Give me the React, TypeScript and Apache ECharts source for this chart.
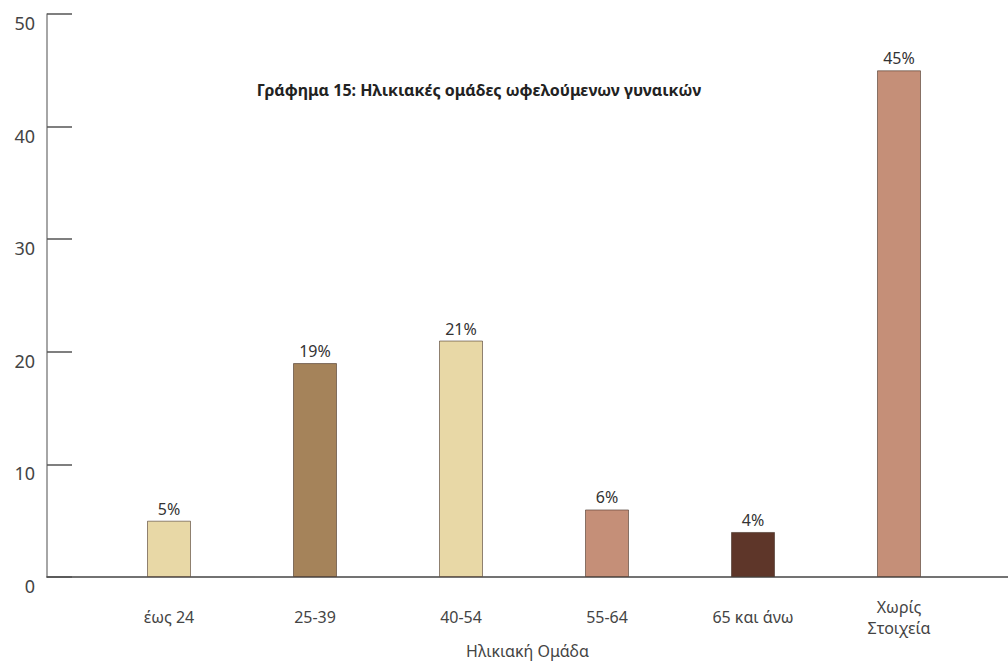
import React, { useEffect, useRef } from "react";
import * as echarts from "echarts";

const categories = ["έως 24", "25-39", "40-54", "55-64", "65 και άνω", "Χωρίς\nΣτοιχεία"];
const values = [5, 19, 21, 6, 4, 45];
const barColors = ["#E8D8A6", "#A5835A", "#E8D8A6", "#C58F78", "#5E3629", "#C58F78"];
const yTicks = { min: 0, max: 50, interval: 10 };
const titleText = "Γράφημα 15: Ηλικιακές ομάδες ωφελούμενων γυναικών";
const xName = "Ηλικιακή Ομάδα";

export default function App() {
  const ref = useRef<HTMLDivElement>(null);
  useEffect(() => {
    if (!ref.current) return;
    const chart = echarts.init(ref.current, null, { renderer: "svg" });
    const font = "'Noto Sans', sans-serif";
    chart.setOption({
      animation: false,
      textStyle: { fontFamily: font },
      title: {
        text: titleText,
        left: 474,
        top: 77,
        textAlign: "center",
        textStyle: { fontSize: 16, fontWeight: "bold", color: "#222", fontFamily: font },
      },
      grid: [
        { left: 47, right: 0, top: 14, bottom: 87, outerBoundsMode: "none", containLabel: false },
        { left: 96, right: 36, top: 14, bottom: 87, outerBoundsMode: "none", containLabel: false },
      ],
      xAxis: [
        {
          gridIndex: 0,
          type: "value",
          min: 0,
          max: 1,
          axisLine: { show: true, onZero: false, lineStyle: { color: "#444", width: 1.5 } },
          axisTick: { show: false },
          axisLabel: { show: false },
          splitLine: { show: false },
          name: xName,
          nameLocation: "middle",
          nameGap: 66,
          nameTextStyle: { fontSize: 16, color: "#444", fontFamily: font },
        },
        {
          gridIndex: 1,
          type: "category",
          data: categories,
          axisLine: { show: false },
          axisTick: { show: false },
          axisLabel: {
            margin: 40,
            fontSize: 16,
            color: "#444",
            lineHeight: 21,
            verticalAlign: "middle",
            fontFamily: font,
            interval: 0,
          },
        },
      ],
      yAxis: [
        {
          gridIndex: 0,
          type: "value",
          min: yTicks.min,
          max: yTicks.max,
          interval: yTicks.interval,
          axisLine: { show: true, lineStyle: { color: "#888", width: 1.5 } },
          axisTick: { show: true, inside: true, length: 25, lineStyle: { color: "#555", width: 1.5 } },
          axisLabel: {
            margin: 12,
            fontSize: 18,
            color: "#444",
            fontFamily: font,
            verticalAlign: "top",
          },
          splitLine: { show: false },
        },
        {
          gridIndex: 1,
          type: "value",
          min: yTicks.min,
          max: yTicks.max,
          interval: yTicks.interval,
          show: false,
        },
      ],
      series: [
        {
          type: "bar",
          xAxisIndex: 1,
          yAxisIndex: 1,
          barWidth: 44,
          data: values.map((v, i) => ({
            value: v,
            itemStyle: { color: barColors[i], borderColor: "rgba(60,40,30,0.55)", borderWidth: 1 },
          })),
          label: {
            show: true,
            position: "top",
            distance: 4,
            formatter: (p: any) => p.value + "%",
            fontSize: 16,
            color: "#333",
            fontFamily: font,
          },
        },
      ],
    });
    return () => chart.dispose();
  }, []);
  return <div ref={ref} style={{ width: 1008, height: 664, position: "absolute", left: 0, top: 0 }} />;
}
